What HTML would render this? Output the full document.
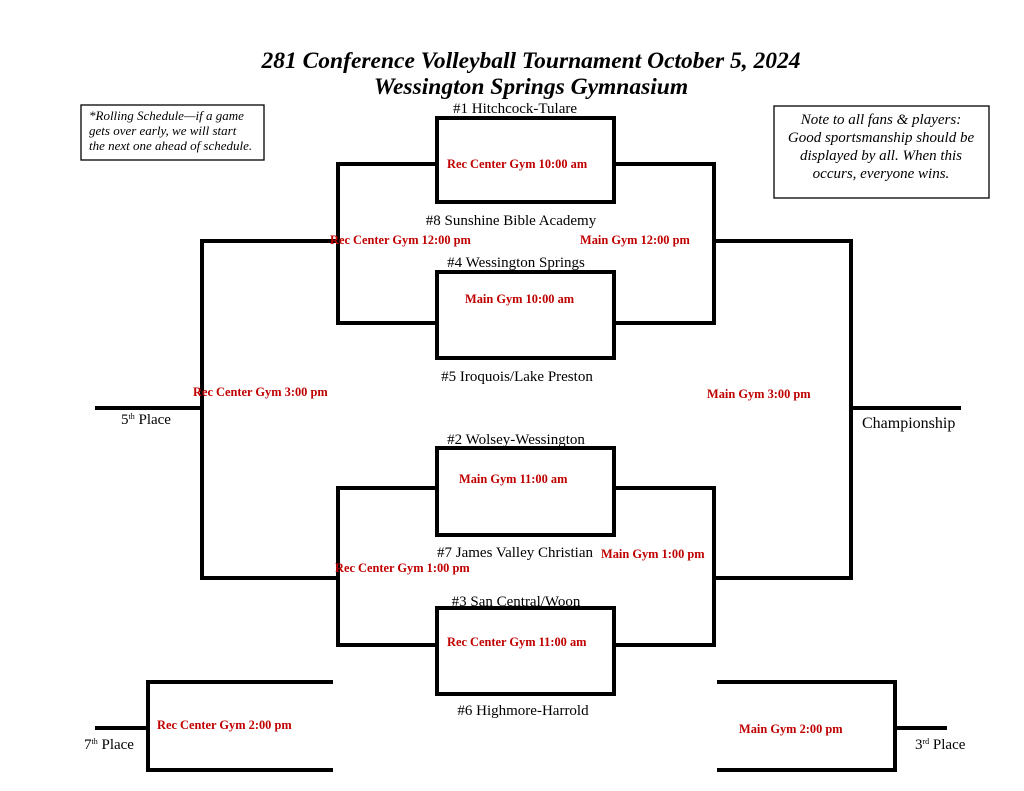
<!DOCTYPE html>
<html><head><meta charset="utf-8"><style>
html,body{margin:0;padding:0;background:#fff;}
svg{display:block;}
text{font-family:"Liberation Serif",serif;}
.t{font-size:15px;fill:#000;}
.r{font-size:12.4px;fill:#c00000;font-weight:bold;}
.i{font-style:italic;font-size:13px;}
</style></head><body>
<svg width="1024" height="791" viewBox="0 0 1024 791" xmlns="http://www.w3.org/2000/svg">
<g stroke="#000" stroke-width="4" fill="none">
<rect x="437" y="118" width="177" height="84"/>
<rect x="437" y="272" width="177" height="86"/>
<rect x="437" y="448" width="177" height="87"/>
<rect x="437" y="608" width="177" height="86"/>
<polyline points="437,164 338,164 338,323 437,323"/>
<polyline points="614,164 714,164 714,323 614,323"/>
<polyline points="437,488 338,488 338,645 437,645"/>
<polyline points="614,488 714,488 714,645 614,645"/>
<polyline points="338,241 202,241 202,578 338,578"/>
<polyline points="714,241 851,241 851,578 714,578"/>
<line x1="95" y1="408" x2="202" y2="408"/>
<line x1="851" y1="408" x2="961" y2="408"/>
<polyline points="333,682 148,682 148,770 333,770"/>
<line x1="95" y1="728" x2="148" y2="728"/>
<polyline points="717,682 895,682 895,770 717,770"/>
<line x1="895" y1="728" x2="947" y2="728"/>
</g>
<g stroke="#000" stroke-width="1.3" fill="#fff">
<rect x="81" y="105" width="183" height="55"/>
<rect x="774" y="106" width="215" height="92"/>
</g>
<text x="531" y="68" text-anchor="middle" style="font-size:23.5px;font-weight:bold;font-style:italic">281 Conference Volleyball Tournament October 5, 2024</text>
<text x="531" y="94" text-anchor="middle" style="font-size:23.5px;font-weight:bold;font-style:italic">Wessington Springs Gymnasium</text>
<text class="i" x="89" y="120">*Rolling Schedule—if a game</text>
<text class="i" x="89" y="135">gets over early, we will start</text>
<text class="i" x="89" y="150">the next one ahead of schedule.</text>
<text class="i" x="881" y="124" text-anchor="middle" style="font-size:15px">Note to all fans &amp; players:</text>
<text class="i" x="881" y="142" text-anchor="middle" style="font-size:15px">Good sportsmanship should be</text>
<text class="i" x="881" y="160" text-anchor="middle" style="font-size:15px">displayed by all.  When this</text>
<text class="i" x="881" y="178" text-anchor="middle" style="font-size:15px">occurs, everyone wins.</text>
<text class="t" x="515" y="113" text-anchor="middle">#1 Hitchcock-Tulare</text>
<text class="t" x="511" y="225" text-anchor="middle">#8 Sunshine Bible Academy</text>
<text class="t" x="516" y="267" text-anchor="middle">#4 Wessington Springs</text>
<text class="t" x="517" y="381" text-anchor="middle">#5 Iroquois/Lake Preston</text>
<text class="t" x="516" y="444" text-anchor="middle">#2 Wolsey-Wessington</text>
<text class="t" x="515" y="557" text-anchor="middle">#7 James Valley Christian</text>
<text class="t" x="516" y="606" text-anchor="middle">#3 San Central/Woon</text>
<text class="t" x="523" y="715" text-anchor="middle">#6 Highmore-Harrold</text>
<text class="t" x="121" y="424">5<tspan style="font-size:8px" dy="-5">th</tspan><tspan dy="5"> Place</tspan></text>
<text class="t" x="862" y="428" style="font-size:16px">Championship</text>
<text class="t" x="84" y="749">7<tspan style="font-size:8px" dy="-5">th</tspan><tspan dy="5"> Place</tspan></text>
<text class="t" x="915" y="749">3<tspan style="font-size:8px" dy="-5">rd</tspan><tspan dy="5"> Place</tspan></text>
<text class="r" x="447" y="168">Rec Center Gym 10:00 am</text>
<text class="r" x="330" y="244">Rec Center Gym 12:00 pm</text>
<text class="r" x="580" y="244">Main Gym 12:00 pm</text>
<text class="r" x="465" y="303">Main Gym 10:00 am</text>
<text class="r" x="193" y="396">Rec Center Gym 3:00 pm</text>
<text class="r" x="707" y="398">Main Gym 3:00 pm</text>
<text class="r" x="459" y="483">Main Gym 11:00 am</text>
<text class="r" x="601" y="558">Main Gym 1:00 pm</text>
<text class="r" x="335" y="572">Rec Center Gym 1:00 pm</text>
<text class="r" x="447" y="646">Rec Center Gym 11:00 am</text>
<text class="r" x="157" y="729">Rec Center Gym 2:00 pm</text>
<text class="r" x="739" y="733">Main Gym 2:00 pm</text>
</svg>
</body></html>
